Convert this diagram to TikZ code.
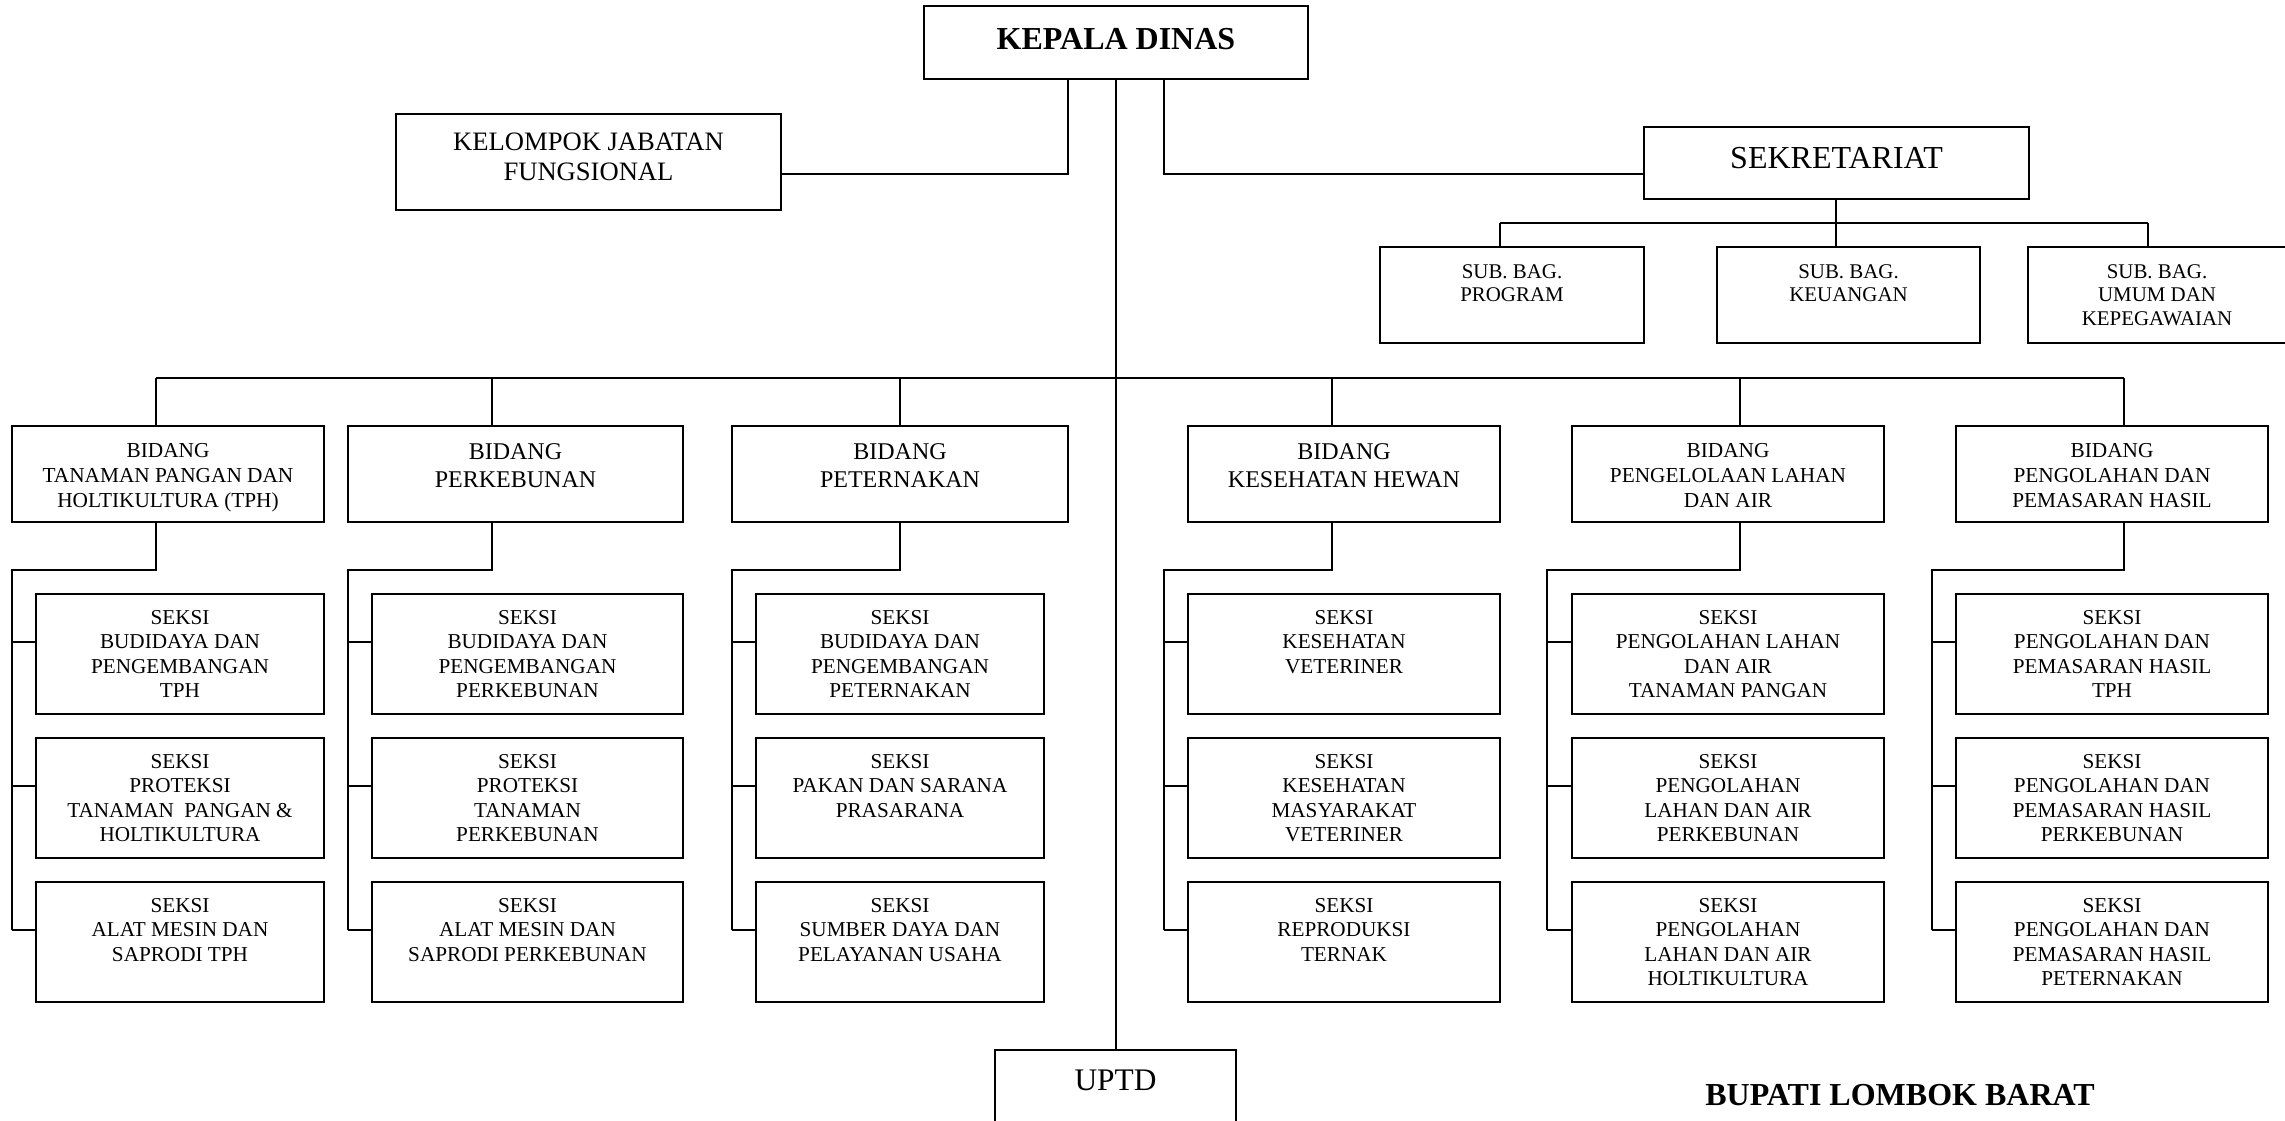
\documentclass[tikz,border=0pt]{standalone}
\usepackage{fontspec}
\setmainfont{Liberation Serif}
\newcommand\ocseksi{\fontsize{21.2pt}{24.6pt}\selectfont\rule{0pt}{30pt}}
\newcommand\ocbidA{\fontsize{21.3pt}{25.3pt}\selectfont\rule{0pt}{31pt}}
\newcommand\ocbidB{\fontsize{24pt}{27.6pt}\selectfont\rule{0pt}{33.4pt}}
\newcommand\ockjf{\fontsize{26.6pt}{30pt}\selectfont\rule{0pt}{36.4pt}}
\newcommand\ockepala{\fontsize{32pt}{36pt}\selectfont\bfseries\rule{0pt}{44pt}}
\newcommand\ocsekr{\fontsize{32pt}{36pt}\selectfont\rule{0pt}{41pt}}
\newcommand\ocsub{\fontsize{20.9pt}{23.6pt}\selectfont\rule{0pt}{31pt}}
\newcommand\ocuptd{\fontsize{31.4pt}{36pt}\selectfont\rule{0pt}{40pt}}
% #1 style, #2 name, #3 x1, #4 y1, #5 x2, #6 y2, #7 font, #8 text
\newcommand\orgbox[8][orgrect]{%
  \node[#1, anchor=north west] (#2) at (#3,#4)
    {\begin{minipage}[c][\dimexpr #6pt-#4pt\relax][t]{\dimexpr #5pt-#3pt\relax}\centering#7#8\end{minipage}};}
\tikzset{
  orgrect/.style={draw, line width=2pt, inner sep=0pt, outer sep=0pt},
  textonly/.style={inner sep=0pt, outer sep=0pt},
  boxline/.style={line width=2pt},
  conn/.style={line width=1.8pt},
}
\begin{document}
\begin{tikzpicture}[x=1pt, y=-1pt]
\path[use as bounding box, fill=white] (0,0) rectangle (2285,1121);

% top level
\orgbox{kepala}{924}{6}{1308}{79}{\ockepala}{KEPALA DINAS}
\orgbox{kjf}{396}{114}{781}{210}{\ockjf}{KELOMPOK JABATAN\\FUNGSIONAL}
\orgbox{sekr}{1644}{127}{2029}{199}{\ocsekr}{SEKRETARIAT}

% sub bagian
\orgbox{sub1}{1380}{247}{1644}{343}{\ocsub}{SUB. BAG.\\PROGRAM}
\orgbox{sub2}{1717}{247}{1980}{343}{\ocsub}{SUB. BAG.\\KEUANGAN}
\orgbox[textonly]{sub3}{2028}{247}{2286}{343}{\ocsub}{SUB. BAG.\\UMUM DAN\\KEPEGAWAIAN}
\draw[boxline] (sub3.north east) -- (sub3.north west) -- (sub3.south west) -- (sub3.south east);

% bidang
\orgbox{b1}{12}{426}{324}{522}{\ocbidA}{BIDANG\\TANAMAN PANGAN DAN\\HOLTIKULTURA (TPH)}
\orgbox{b2}{348}{426}{683}{522}{\ocbidB}{BIDANG\\PERKEBUNAN}
\orgbox{b3}{732}{426}{1068}{522}{\ocbidB}{BIDANG\\PETERNAKAN}
\orgbox{b4}{1188}{426}{1500}{522}{\ocbidB}{BIDANG\\KESEHATAN HEWAN}
\orgbox{b5}{1572}{426}{1884}{522}{\ocbidA}{BIDANG\\PENGELOLAAN LAHAN\\DAN AIR}
\orgbox{b6}{1956}{426}{2268}{522}{\ocbidA}{BIDANG\\PENGOLAHAN DAN\\PEMASARAN HASIL}

% seksi column 1
\orgbox{s1-1}{36}{594}{324}{714}{\ocseksi}{SEKSI\\BUDIDAYA DAN\\PENGEMBANGAN\\TPH}
\orgbox{s1-2}{36}{738}{324}{858}{\ocseksi}{SEKSI\\PROTEKSI\\TANAMAN\ \ PANGAN \&\\HOLTIKULTURA}
\orgbox{s1-3}{36}{882}{324}{1002}{\ocseksi}{SEKSI\\ALAT MESIN DAN\\SAPRODI TPH}
% column 2
\orgbox{s2-1}{372}{594}{683}{714}{\ocseksi}{SEKSI\\BUDIDAYA DAN\\PENGEMBANGAN\\PERKEBUNAN}
\orgbox{s2-2}{372}{738}{683}{858}{\ocseksi}{SEKSI\\PROTEKSI\\TANAMAN\\PERKEBUNAN}
\orgbox{s2-3}{372}{882}{683}{1002}{\ocseksi}{SEKSI\\ALAT MESIN DAN\\SAPRODI PERKEBUNAN}
% column 3
\orgbox{s3-1}{756}{594}{1044}{714}{\ocseksi}{SEKSI\\BUDIDAYA DAN\\PENGEMBANGAN\\PETERNAKAN}
\orgbox{s3-2}{756}{738}{1044}{858}{\ocseksi}{SEKSI\\PAKAN DAN SARANA\\PRASARANA}
\orgbox{s3-3}{756}{882}{1044}{1002}{\ocseksi}{SEKSI\\SUMBER DAYA DAN\\PELAYANAN USAHA}
% column 4
\orgbox{s4-1}{1188}{594}{1500}{714}{\ocseksi}{SEKSI\\KESEHATAN\\VETERINER}
\orgbox{s4-2}{1188}{738}{1500}{858}{\ocseksi}{SEKSI\\KESEHATAN\\MASYARAKAT\\VETERINER}
\orgbox{s4-3}{1188}{882}{1500}{1002}{\ocseksi}{SEKSI\\REPRODUKSI\\TERNAK}
% column 5
\orgbox{s5-1}{1572}{594}{1884}{714}{\ocseksi}{SEKSI\\PENGOLAHAN LAHAN\\DAN AIR\\TANAMAN PANGAN}
\orgbox{s5-2}{1572}{738}{1884}{858}{\ocseksi}{SEKSI\\PENGOLAHAN\\LAHAN DAN AIR\\PERKEBUNAN}
\orgbox{s5-3}{1572}{882}{1884}{1002}{\ocseksi}{SEKSI\\PENGOLAHAN\\LAHAN DAN AIR\\HOLTIKULTURA}
% column 6
\orgbox{s6-1}{1956}{594}{2268}{714}{\ocseksi}{SEKSI\\PENGOLAHAN DAN\\PEMASARAN HASIL\\TPH}
\orgbox{s6-2}{1956}{738}{2268}{858}{\ocseksi}{SEKSI\\PENGOLAHAN DAN\\PEMASARAN HASIL\\PERKEBUNAN}
\orgbox{s6-3}{1956}{882}{2268}{1002}{\ocseksi}{SEKSI\\PENGOLAHAN DAN\\PEMASARAN HASIL\\PETERNAKAN}

% UPTD (bottom edge beyond the page)
\orgbox[textonly]{uptd}{995}{1050}{1236}{1122}{\ocuptd}{UPTD}
\draw[boxline] (uptd.south west) -- (uptd.north west) -- (uptd.north east) -- (uptd.south east);

\node[anchor=base, inner sep=0pt, font=\fontsize{32pt}{36pt}\selectfont\bfseries] (bupati) at (1900,1105.6) {BUPATI LOMBOK BARAT};

% connectors from kepala
\coordinate (k1) at (1068,174);
\coordinate (k2) at (1164,174);
\coordinate (tr) at (1116,0);
\draw[conn] (kepala.south -| k1) -- (k1) -- (k1 -| kjf.east);
\draw[conn] (kepala.south -| k2) -- (k2) -- (k2 -| sekr.west);
\draw[conn] (kepala.south -| tr) -- (uptd.north -| tr);

% sekretariat to sub bagian
\coordinate (sbL) at (1500,223);
\coordinate (sbR) at (2148,223);
\coordinate (sbM) at (1836,223);
\draw[conn] (sbL) -- (sbR);
\draw[conn] (sbL) -- (sbL |- sub1.north);
\draw[conn] (sbR) -- (sbR |- sub3.north);
\draw[conn] (sekr.south -| sbM) -- (sbM |- sub2.north);

% main bus
\coordinate (busL) at (156,378);
\coordinate (busR) at (2124,378);
\draw[conn] (busL) -- (busR);

\foreach \i/\cx/\vx in {1/156/12, 2/492/348, 3/900/732, 4/1332/1164, 5/1740/1547, 6/2124/1932}{
  \coordinate (bx\i) at (\cx,378);
  \coordinate (e\i) at (\cx,570);
  \coordinate (v\i) at (\vx,570);
  \coordinate (t\i-1) at (\vx,642);
  \coordinate (t\i-2) at (\vx,786);
  \coordinate (t\i-3) at (\vx,930);
  \draw[conn] (bx\i) -- (bx\i |- b\i.north);
  \draw[conn] (b\i.south -| e\i) -- (e\i) -- (v\i) -- (t\i-3);
  \draw[conn] (t\i-1) -- (t\i-1 -| s\i-1.west);
  \draw[conn] (t\i-2) -- (t\i-2 -| s\i-2.west);
  \draw[conn] (t\i-3) -- (t\i-3 -| s\i-3.west);
}
\end{tikzpicture}
\end{document}
